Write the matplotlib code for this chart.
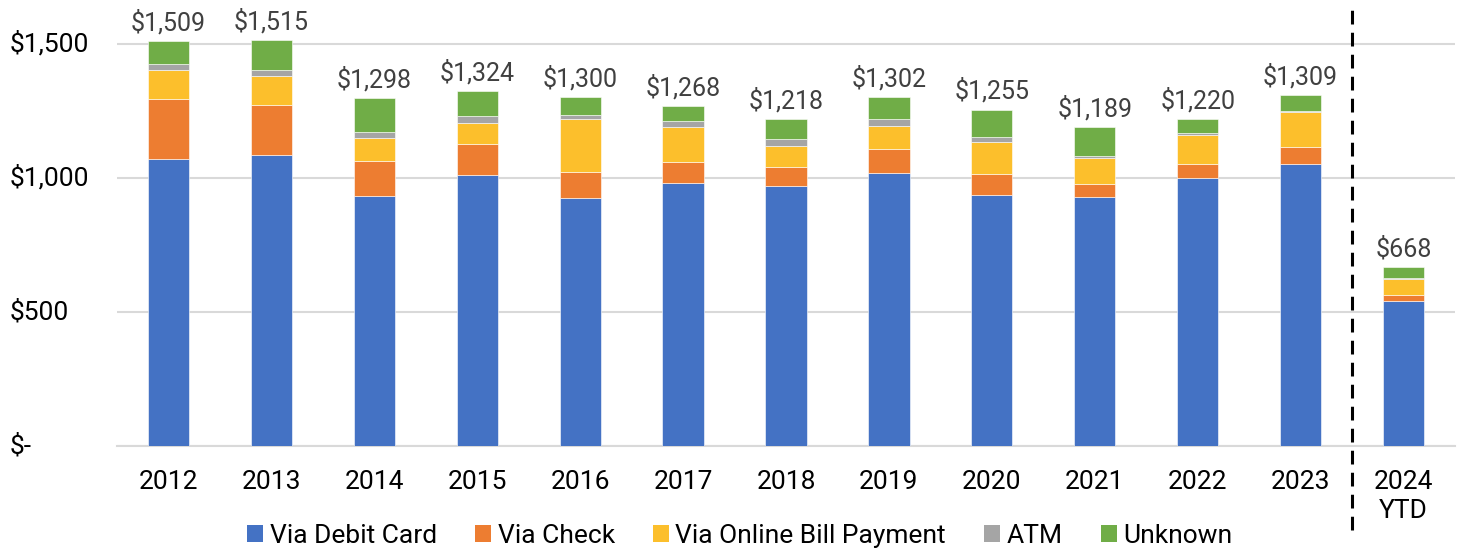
import matplotlib
matplotlib.use("Agg")
import matplotlib.pyplot as plt
from matplotlib.patches import Patch
import numpy as np

plt.rcParams['font.family'] = ['Roboto', 'DejaVu Sans']

categories = ["2012", "2013", "2014", "2015", "2016", "2017", "2018", "2019",
              "2020", "2021", "2022", "2023", "2024\nYTD"]
debit_card = [1072, 1087, 934, 1012, 925, 982, 968, 1020, 935, 927, 1000, 1050, 540]
check = [224, 183, 129, 114, 97, 79, 73, 88, 80, 51, 52, 65, 25]
online_bill = [106, 109, 86, 77, 196, 130, 78, 86, 118, 97, 108, 131, 57]
atm = [22, 24, 23, 27, 16, 20, 25, 25, 21, 7, 7, 5, 6]
unknown = [85, 112, 126, 94, 66, 57, 74, 83, 101, 107, 53, 58, 40]
totals = [1509, 1515, 1298, 1324, 1300, 1268, 1218, 1302, 1255, 1189, 1220, 1309, 668]

series_names = ["Via Debit Card", "Via Check", "Via Online Bill Payment", "ATM", "Unknown"]
series = [debit_card, check, online_bill, atm, unknown]
colors = ["#4472C4", "#ED7D31", "#FCBF2C", "#A5A5A5", "#70AD47"]

yticks = [0, 500, 1000, 1500]
ytick_labels = ["$-", "$500", "$1,000", "$1,500"]

W, H = 1460, 551
fig = plt.figure(figsize=(W / 100, H / 100), dpi=100)
ax = fig.add_axes([117 / W, 1 - 446 / H, (1455 - 117) / W, (446 - 17) / H])

x = np.arange(len(categories))
bottom = np.zeros(len(categories))
for vals, c in zip(series, colors):
    ax.bar(x, vals, width=0.4, bottom=bottom, color=c, edgecolor="white",
           linewidth=0.4, zorder=3)
    bottom += np.array(vals)

for xi, t in zip(x, totals):
    ax.annotate(f"${t:,}", (xi, bottom[xi]), xytext=(0, 4), textcoords="offset points",
                ha="center", va="bottom", fontsize=18, color="#404040")

ax.set_xlim(-0.5, len(categories) - 0.5)
ax.set_ylim(0, 1600)
ax.set_yticks(yticks)
ax.set_yticklabels([])
for v, lab in zip(yticks, ytick_labels):
    ax.text(-0.08, v, lab, transform=ax.get_yaxis_transform(), ha="left",
            va="center", fontsize=19, color="black")
ax.tick_params(axis="y", length=0)
ax.set_xticks(x)
ax.set_xticklabels(categories, fontsize=19, color="black", linespacing=1.3)
ax.tick_params(axis="x", length=0, pad=17)
ax.grid(axis="y", color="#D9D9D9", linewidth=1.5, zorder=0)
for s in ["top", "right", "left"]:
    ax.spines[s].set_visible(False)
ax.spines["bottom"].set_color("#D9D9D9")
ax.spines["bottom"].set_linewidth(1.5)

ax.axvline(11.5, ymin=(446 - 530) / 429, ymax=(446 - 6) / 429, color="black",
           linewidth=2.2, linestyle=(0, (4.5, 2.7)), clip_on=False, zorder=5)

handles = [Patch(facecolor=c, edgecolor="none") for c in colors]
fig.legend(handles, series_names, loc="center", bbox_to_anchor=(740 / W, 1 - 536 / H),
           ncol=5, frameon=False, fontsize=19, handlelength=0.6, handleheight=0.6,
           handletextpad=0.25, columnspacing=1.45, borderpad=0)

fig.savefig("out.png", dpi=100)
